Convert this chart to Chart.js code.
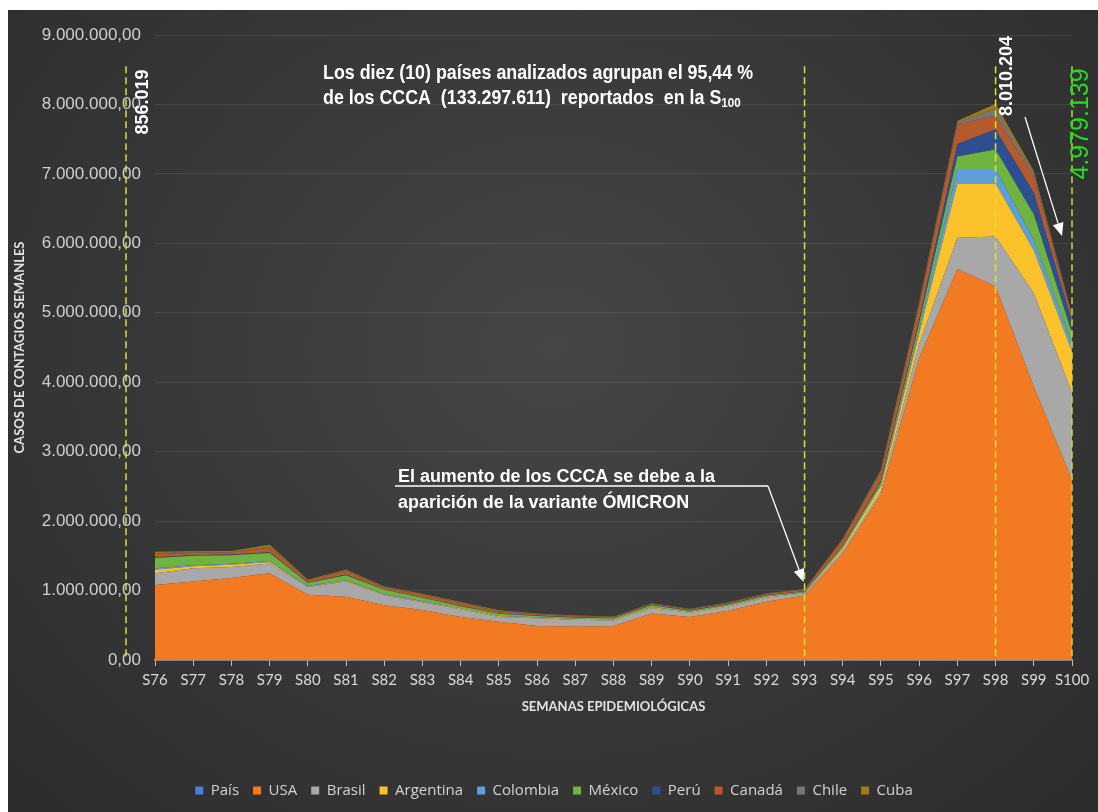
<!DOCTYPE html>
<html lang="es">
<head>
<meta charset="utf-8">
<title>Casos de contagios semanales S76 - S100</title>
<script src="https://cdn.jsdelivr.net/npm/chart.js@4.4.1/dist/chart.umd.min.js"></script>
<style>
  html, body { margin: 0; padding: 0; background: #fff; }
  .marco {
    position: absolute; left: 8px; top: 10px; width: 1090px; height: 802px;
    background: radial-gradient(ellipse at 50% 42%, #464646 0%, #3a3a3a 45%, #2c2c2c 100%);
  }
  canvas { display: block; }
</style>
</head>
<body>
<div class="marco"><canvas id="grafico" width="1090" height="802"></canvas></div>
<script>
  const semanas = ["S76", "S77", "S78", "S79", "S80", "S81", "S82", "S83", "S84", "S85", "S86", "S87", "S88",
    "S89", "S90", "S91", "S92", "S93", "S94", "S95", "S96", "S97", "S98", "S99", "S100"];

  const pais = [0, 0, 0, 0, 0, 0, 0, 0, 0, 0, 0, 0, 0, 0, 0, 0, 0, 0, 0, 0, 0, 0, 0, 0, 0];
  const usa = [1080000, 1130000, 1180000, 1250000, 940000, 910000, 790000, 720000, 620000, 550000, 490000, 480000, 490000,
    670000, 620000, 710000, 840000, 930000, 1530000, 2380000, 4350000, 5630000, 5380000, 3940000, 2590000];
  const brasil = [170000, 190000, 160000, 140000, 110000, 220000, 140000, 110000, 110000, 70000, 110000, 100000, 80000,
    80000, 60000, 60000, 60000, 30000, 40000, 50000, 200000, 450000, 720000, 1340000, 1260000];
  const argentina = [50000, 30000, 30000, 20000, 10000, 10000, 10000, 10000, 10000, 10000, 10000, 10000, 10000,
    10000, 10000, 10000, 10000, 10000, 40000, 80000, 150000, 780000, 760000, 620000, 590000];
  const colombia = [20000, 15000, 15000, 15000, 10000, 10000, 10000, 10000, 5000, 5000, 5000, 5000, 5000,
    5000, 5000, 5000, 5000, 5000, 10000, 20000, 60000, 210000, 210000, 150000, 120000];
  const mexico = [150000, 135000, 125000, 115000, 40000, 70000, 60000, 45000, 30000, 30000, 20000, 15000, 15000,
    25000, 15000, 15000, 15000, 10000, 20000, 30000, 90000, 180000, 280000, 370000, 150000];
  const peru = [10000, 10000, 10000, 10000, 5000, 10000, 5000, 5000, 5000, 5000, 5000, 5000, 5000,
    5000, 5000, 5000, 5000, 5000, 10000, 20000, 50000, 180000, 290000, 310000, 160000];
  const canada = [50000, 30000, 30000, 70000, 30000, 50000, 30000, 40000, 40000, 30000, 20000, 15000, 15000,
    15000, 15000, 15000, 20000, 20000, 80000, 120000, 200000, 280000, 200000, 230000, 70000];
  const chile = [10000, 10000, 5000, 10000, 5000, 5000, 5000, 5000, 5000, 5000, 5000, 5000, 3000,
    3000, 3000, 3000, 3000, 3000, 10000, 20000, 30000, 30000, 100000, 50000, 25000];
  const cuba = [20000, 15000, 15000, 30000, 10000, 15000, 10000, 10000, 10000, 10000, 5000, 5000, 5000,
    5000, 5000, 5000, 5000, 5000, 10000, 20000, 20000, 20000, 70204, 30000, 14139];

  const series = [
    ["País", pais, "#4a7ed6"],
    ["USA", usa, "#f27a22"],
    ["Brasil", brasil, "#a8a8a8"],
    ["Argentina", argentina, "#fcc22c"],
    ["Colombia", colombia, "#5c9fda"],
    ["México", mexico, "#6fb441"],
    ["Perú", peru, "#2e4e92"],
    ["Canadá", canada, "#b45a2c"],
    ["Chile", chile, "#767676"],
    ["Cuba", cuba, "#a07c14"],
  ];

  // 9.000.000,00
  const fmtEje = (v) => String(Math.round(v)).replace(/\B(?=(\d{3})+(?!\d))/g, ".") + ",00";

  const narrow = '"Liberation Sans Narrow", "Arial Narrow", "Liberation Sans", Arial, sans-serif';

  // texto comprimido horizontalmente con el factor dado
  const textoAjustado = (ctx, txt, x, y, escala) => {
    ctx.save();
    ctx.translate(x, y);
    ctx.scale(escala, 1);
    ctx.fillText(txt, 0, 0);
    ctx.restore();
    return ctx.measureText(txt).width * escala;
  };

  const flecha = (ctx, x1, y1, x2, y2) => {
    const ang = Math.atan2(y2 - y1, x2 - x1);
    const largo = 13, ancho = 5.5;
    const bx = x2 - largo * Math.cos(ang), by = y2 - largo * Math.sin(ang);
    ctx.beginPath();
    ctx.moveTo(x1, y1);
    ctx.lineTo(bx, by);
    ctx.stroke();
    ctx.beginPath();
    ctx.moveTo(x2, y2);
    ctx.lineTo(bx + ancho * Math.sin(ang), by - ancho * Math.cos(ang));
    ctx.lineTo(bx - ancho * Math.sin(ang), by + ancho * Math.cos(ang));
    ctx.closePath();
    ctx.fill();
  };

  const notas = {
    id: "notas",
    afterDraw(chart) {
      const { ctx, chartArea: a, scales: { x, y } } = chart;
      const tope = y.getPixelForValue(8550000);

      // lineas verticales de referencia
      const vertical = (xp, color) => {
        ctx.save();
        ctx.strokeStyle = color;
        ctx.lineWidth = 1.5;
        ctx.setLineDash([7, 4]);
        ctx.beginPath();
        ctx.moveTo(xp, tope);
        ctx.lineTo(xp, a.bottom);
        ctx.stroke();
        ctx.restore();
      };
      const x93 = x.getPixelForValue(17), x98 = x.getPixelForValue(22), x100 = x.getPixelForValue(24);
      vertical(a.left - 29, "#d6e22e");
      vertical(x93, "#d6e22e");
      vertical(x98, "#e2e22a");
      vertical(x100, "#c4dc30");

      // cifras rotadas
      const rotado = (txt, cx, cy, font, color) => {
        ctx.save();
        ctx.translate(cx, cy);
        ctx.rotate(-Math.PI / 2);
        ctx.font = font;
        ctx.fillStyle = color;
        ctx.textAlign = "center";
        ctx.textBaseline = "middle";
        ctx.fillText(txt, 0, 0);
        ctx.restore();
      };
      rotado("856.019", a.left - 12, 92, 'bold 18px "Liberation Sans", Arial, sans-serif', "#ffffff");
      rotado("8.010.204", x98 + 11, 66, 'bold 18px "Liberation Sans", Arial, sans-serif', "#ffffff");
      rotado("4.979.139", x100 + 9, 114, '25px "Liberation Sans", Arial, sans-serif', "#22dd22");

      ctx.save();
      ctx.fillStyle = "#ffffff";
      ctx.strokeStyle = "#ffffff";
      ctx.textBaseline = "middle";
      ctx.textAlign = "left";

      // nota superior
      ctx.font = "bold 20px " + narrow;
      const l1 = "Los diez (10) países analizados agrupan el 95,44 %";
      const esc = 430 / ctx.measureText(l1).width;
      textoAjustado(ctx, l1, 315, 63, esc);
      const w2 = textoAjustado(ctx, "de los CCCA  (133.297.611)  reportados  en la S", 315, 88, esc);
      ctx.font = "bold 13px " + narrow;
      textoAjustado(ctx, "100", 315 + w2, 93, esc);

      // nota de ÓMICRON
      ctx.font = "bold 18px " + narrow;
      const o1 = "El aumento de los CCCA se debe a la";
      const esc2 = 317 / ctx.measureText(o1).width;
      textoAjustado(ctx, o1, 390, 467, esc2);
      textoAjustado(ctx, "aparición de la variante ÓMICRON", 390, 493, esc2);

      ctx.lineWidth = 1.3;
      ctx.beginPath();
      ctx.moveTo(387, 476);
      ctx.lineTo(760, 476);
      ctx.stroke();
      flecha(ctx, 760, 476, x93 - 1, 572);

      // flecha de descenso
      flecha(ctx, 1017, 107, 1054, 226);
      ctx.restore();
    },
  };

  new Chart(document.getElementById("grafico"), {
    type: "line",
    data: {
      labels: semanas,
      datasets: series.map(([label, data, color], i) => ({
        label,
        data,
        backgroundColor: color,
        borderColor: color,
        borderWidth: 0,
        pointRadius: 0,
        tension: 0,
        fill: i === 0 ? "origin" : "-1",
      })),
    },
    options: {
      responsive: false,
      animation: false,
      layout: { padding: { top: 25, right: 26, bottom: 4, left: 28 } },
      plugins: {
        tooltip: { enabled: false },
        legend: {
          position: "bottom",
          labels: {
            color: "#d2d2d2",
            font: { family: "Open Sans", size: 15 },
            boxWidth: 8,
            boxHeight: 8,
            padding: 14,
          },
        },
      },
      scales: {
        x: {
          grid: { display: true, drawOnChartArea: false, tickLength: 6, color: "#bdbdbd" },
          border: { display: true, color: "#bdbdbd", width: 1.5 },
          ticks: { color: "#d9d9d9", font: { family: "Lato", size: 15 }, padding: 5, maxRotation: 0, autoSkip: false },
          title: {
            display: true,
            text: "SEMANAS EPIDEMIOLÓGICAS",
            color: "#e2e2e2",
            font: { family: "Lato", size: 13, weight: "bold" },
            padding: { top: 0, bottom: 54 },
          },
          afterFit: (s) => { s.height = 109; },
        },
        y: {
          stacked: true,
          min: 0,
          max: 9000000,
          border: { display: false },
          grid: { color: "rgba(255,255,255,0.09)", drawTicks: false },
          ticks: {
            stepSize: 1000000,
            callback: fmtEje,
            color: "#cfcfcf",
            font: { family: "Liberation Sans", size: 17 },
            padding: 14,
          },
          title: {
            display: true,
            text: "CASOS DE CONTAGIOS SEMANLES",
            color: "#e2e2e2",
            font: { family: "Lato", size: 13, weight: "bold" },
            padding: { top: -24, bottom: 0 },
          },
          afterFit: (s) => { s.width = 119; },
        },
      },
    },
    plugins: [notas],
  });
</script>
</body>
</html>
